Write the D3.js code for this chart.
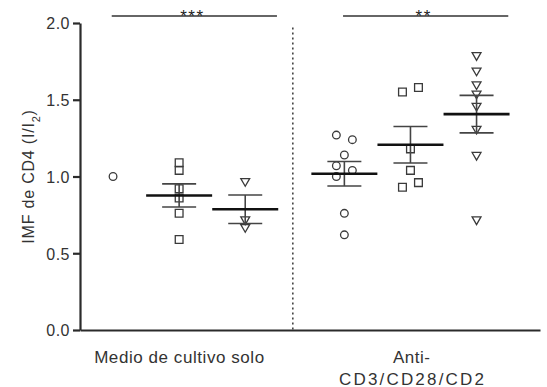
<!DOCTYPE html>
<html>
<head>
<meta charset="utf-8">
<script src="https://cdn.jsdelivr.net/npm/d3@7/dist/d3.min.js"></script>
<style>
  html, body { margin: 0; padding: 0; background: #fff; }
  svg { display: block; font-family: "Liberation Sans", Arial, sans-serif; }
</style>
</head>
<body>
<svg id="chart" width="547" height="387"></svg>
<script>
// Conditions on the x axis
const groups = ["Medio de cultivo solo", "Anti-CD3/CD28/CD2"];
const groupLabelLines = [["Medio de cultivo solo"], ["Anti-", "CD3/CD28/CD2"]];

// Marker shape used for each series within a condition
const seriesShapes = ["circle", "square", "triangle"];

// IMF de CD4 (I/I2) per donor — medio de cultivo solo
const medioCirculo = [1.00];
const medioCuadrado = [1.09, 1.04, 0.92, 0.86, 0.76, 0.59];
const medioTriangulo = [0.97, 0.72, 0.67];

// IMF de CD4 (I/I2) per donor — anti-CD3/CD28/CD2
const antiCirculo = [1.27, 1.24, 1.14, 1.07, 1.04, 1.00, 0.76, 0.62];
const antiCuadrado = [1.55, 1.58, 1.18, 1.04, 0.96, 0.93];
const antiTriangulo = [1.79, 1.69, 1.60, 1.54, 1.46, 1.31, 1.14, 0.72];

// Side-by-side column of each point when markers would overlap (-1 left, 0 centre, 1 right)
const antiCirculoCols = [-1, 1, 0, -1, 1, -1, 0, 0];
const antiCuadradoCols = [-1, 1, 0, 0, 1, -1];

// Y axis ticks
const yTicks = [0.0, 0.5, 1.0, 1.5, 2.0];

// Significance brackets
const significance = [
  { group: 0, label: "***" },
  { group: 1, label: "**" }
];

const seriesData = [
  { group: 0, series: 0, values: medioCirculo },
  { group: 0, series: 1, values: medioCuadrado },
  { group: 0, series: 2, values: medioTriangulo },
  { group: 1, series: 0, values: antiCirculo, cols: antiCirculoCols },
  { group: 1, series: 1, values: antiCuadrado, cols: antiCuadradoCols },
  { group: 1, series: 2, values: antiTriangulo }
];

const svg = d3.select("#chart");

// Column position of each series: three columns per condition, with a wider gap between conditions
const pos = (g, s) => g * 3.5 + s + 1;

const x = d3.scaleLinear().domain([0.5, 7.46]).range([80, 540]);
const y = d3.scaleLinear().domain([0, 2]).range([330, 23]);

const ink = "#2b2b2b";

// Y axis
const yAxis = svg.append("g")
  .attr("transform", `translate(${x(0.5)},0)`)
  .call(d3.axisLeft(y).tickValues(yTicks).tickFormat(d3.format(".1f")).tickSize(7).tickSizeOuter(0).tickPadding(3));
yAxis.select(".domain").attr("stroke", ink).attr("stroke-width", 2.2);
yAxis.selectAll(".tick line").attr("stroke", ink).attr("stroke-width", 2.2);
yAxis.selectAll(".tick text")
  .attr("fill", "#333")
  .style("font-size", "16px")
  .style("font-family", "'Liberation Sans', Arial, sans-serif")
  .style("letter-spacing", "0.5px")
  .attr("dy", "0.36em");

// X axis baseline
const xAxis = svg.append("g")
  .attr("transform", `translate(0,${y(0)})`)
  .call(d3.axisBottom(x).tickValues([]).tickSizeOuter(0));
xAxis.select(".domain").attr("stroke", ink).attr("stroke-width", 2.2);

// Dotted separator between the two conditions
svg.append("line")
  .attr("x1", x(3.72)).attr("x2", x(3.72))
  .attr("y1", y(1.97)).attr("y2", y(0))
  .attr("stroke", "#444").attr("stroke-width", 1.6)
  .attr("stroke-dasharray", "2,3");

// Y axis title with subscript
const yTitle = svg.append("text")
  .attr("transform", `translate(34,${y(1.0)}) rotate(-90)`)
  .attr("text-anchor", "middle")
  .attr("fill", "#333")
  .style("font-size", "16px")
  .style("letter-spacing", "0.8px");
yTitle.append("tspan").text("IMF de CD4 (I/I");
yTitle.append("tspan").attr("baseline-shift", "sub").style("font-size", "11px").text("2");
yTitle.append("tspan").text(")");

// Condition labels
const labelWidths = [[170], [37, 145]];
groupLabelLines.forEach((lines, g) => {
  lines.forEach((line, i) => {
    svg.append("text")
      .attr("x", x(pos(g, 1)) + (g === 1 ? 1 : 0))
      .attr("y", 363 + i * 21.5)
      .attr("text-anchor", "middle")
      .attr("fill", "#333")
      .style("font-size", "17px")
      .attr("textLength", labelWidths[g][i])
      .attr("lengthAdjust", "spacing")
      .text(line);
  });
});

// Significance brackets above each condition
significance.forEach(sig => {
  const x1 = x(pos(sig.group, 0) - 0.02);
  const x2 = x(pos(sig.group, 2) + 0.48);
  const yy = 16;
  svg.append("line")
    .attr("x1", x1).attr("x2", x2).attr("y1", yy).attr("y2", yy)
    .attr("stroke", "#333").attr("stroke-width", 1.6);
  svg.append("text")
    .attr("x", (x1 + x2) / 2 - 2)
    .attr("y", yy + 6)
    .attr("text-anchor", "middle")
    .attr("fill", "#222")
    .style("font-size", "17px")
    .style("letter-spacing", "1.5px")
    .text(sig.label);
});

// Mean and SEM for a set of values
function stats(v) {
  const m = d3.mean(v);
  const sem = v.length > 1 ? d3.deviation(v) / Math.sqrt(v.length) : 0;
  return { m, sem };
}

const symbolFor = {
  circle: d3.symbol().type(d3.symbolCircle).size(46),
  square: d3.symbol().type(d3.symbolSquare).size(60),
  triangle: d3.symbol().type(d3.symbolTriangle).size(34)
};

const colStep = 8;

seriesData.forEach(sd => {
  const cx = x(pos(sd.group, sd.series));
  const shape = seriesShapes[sd.series];
  const g = svg.append("g");

  // Individual points
  g.selectAll("path.pt")
    .data(sd.values)
    .join("path")
    .attr("class", "pt")
    .attr("d", symbolFor[shape])
    .attr("transform", (d, i) => {
      const off = sd.cols ? sd.cols[i] * colStep : 0;
      const rot = shape === "triangle" ? " rotate(180)" : "";
      return `translate(${cx + off},${y(d)})${rot}`;
    })
    .attr("fill", "none")
    .attr("stroke", "#3a3a3a")
    .attr("stroke-width", 1.3);

  if (sd.values.length < 2) return;

  // Mean with SEM whiskers
  const st = stats(sd.values);
  const capHalf = 17;
  const meanHalf = 33;
  g.append("line")
    .attr("x1", cx).attr("x2", cx)
    .attr("y1", y(st.m + st.sem)).attr("y2", y(st.m - st.sem))
    .attr("stroke", "#444").attr("stroke-width", 1.6);
  [st.m + st.sem, st.m - st.sem].forEach(v => {
    g.append("line")
      .attr("x1", cx - capHalf).attr("x2", cx + capHalf)
      .attr("y1", y(v)).attr("y2", y(v))
      .attr("stroke", "#444").attr("stroke-width", 1.6);
  });
  g.append("line")
    .attr("x1", cx - meanHalf).attr("x2", cx + meanHalf)
    .attr("y1", y(st.m)).attr("y2", y(st.m))
    .attr("stroke", "#111").attr("stroke-width", 2.6);
});
</script>
</body>
</html>
